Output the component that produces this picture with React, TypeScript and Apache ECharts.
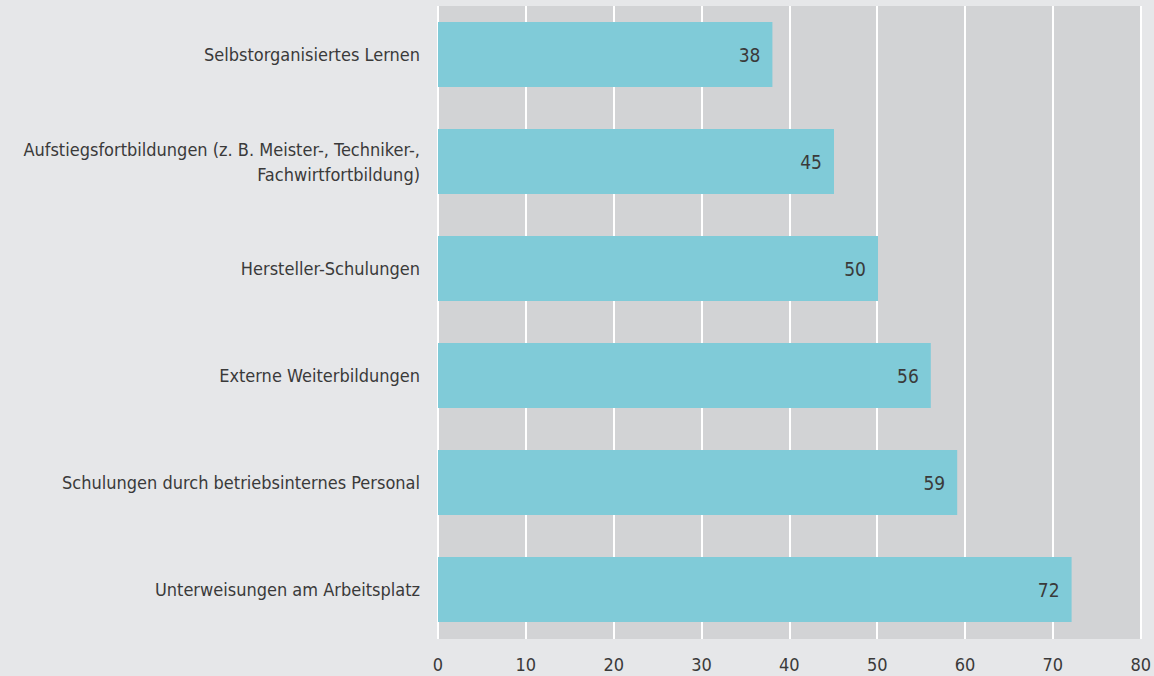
import React, { useEffect, useRef } from "react";
import * as echarts from "echarts";

const categories = [
  "Selbstorganisiertes Lernen",
  "Aufstiegsfortbildungen (z. B. Meister-, Techniker-,\nFachwirtfortbildung)",
  "Hersteller-Schulungen",
  "Externe Weiterbildungen",
  "Schulungen durch betriebsinternes Personal",
  "Unterweisungen am Arbeitsplatz",
];
const values = [38, 45, 50, 56, 59, 72];
const axisMin = 0;
const axisMax = 80;
const axisStep = 10;

const FONT = '"Liberation Sans Narrow", "DejaVu Sans Condensed", "Roboto Condensed", "Open Sans", sans-serif';
const TEXT = "#3a3a3a";

export default function App() {
  const ref = useRef<HTMLDivElement>(null);
  useEffect(() => {
    if (!ref.current) return;
    const chart = echarts.init(ref.current, null, { renderer: "svg" });
    chart.setOption({
      animation: false,
      backgroundColor: "#e6e7e9",
      textStyle: { fontFamily: FONT },
      grid: [
        { left: 438, right: 12, top: 6, bottom: 37, show: true, backgroundColor: "#d2d3d5", borderWidth: 0, containLabel: false },
        { left: 438, right: 12, top: 1, height: 642, containLabel: false },
      ],
      xAxis: [
        {
          gridIndex: 0,
          type: "value",
          min: axisMin,
          max: axisMax,
          interval: axisStep,
          axisLine: { show: false },
          axisTick: { show: false },
          splitLine: { show: true, lineStyle: { color: "#ffffff", width: 2 } },
          axisLabel: { color: TEXT, fontSize: 18, margin: 16, fontFamily: FONT },
        },
        {
          gridIndex: 1,
          type: "value",
          min: axisMin,
          max: axisMax,
          show: false,
        },
      ],
      yAxis: [
        { gridIndex: 0, type: "category", data: categories, show: false },
        {
          gridIndex: 1,
          type: "category",
          data: categories,
          inverse: true,
          axisLine: { show: false },
          axisTick: { show: false },
          splitLine: { show: false },
          axisLabel: { color: TEXT, fontSize: 18, margin: 18, lineHeight: 25, align: "right", fontFamily: FONT },
        },
      ],
      series: [
        {
          type: "bar",
          xAxisIndex: 1,
          yAxisIndex: 1,
          data: values,
          barWidth: 65,
          itemStyle: { color: "#80cbd8" },
          label: {
            show: true,
            position: "insideRight",
            distance: 12,
            color: TEXT,
            fontSize: 19,
            fontFamily: FONT,
          },
        },
      ],
    });
    return () => chart.dispose();
  }, []);
  return <div ref={ref} style={{ width: 1154, height: 676, position: "absolute", left: 0, top: 0 }} />;
}
